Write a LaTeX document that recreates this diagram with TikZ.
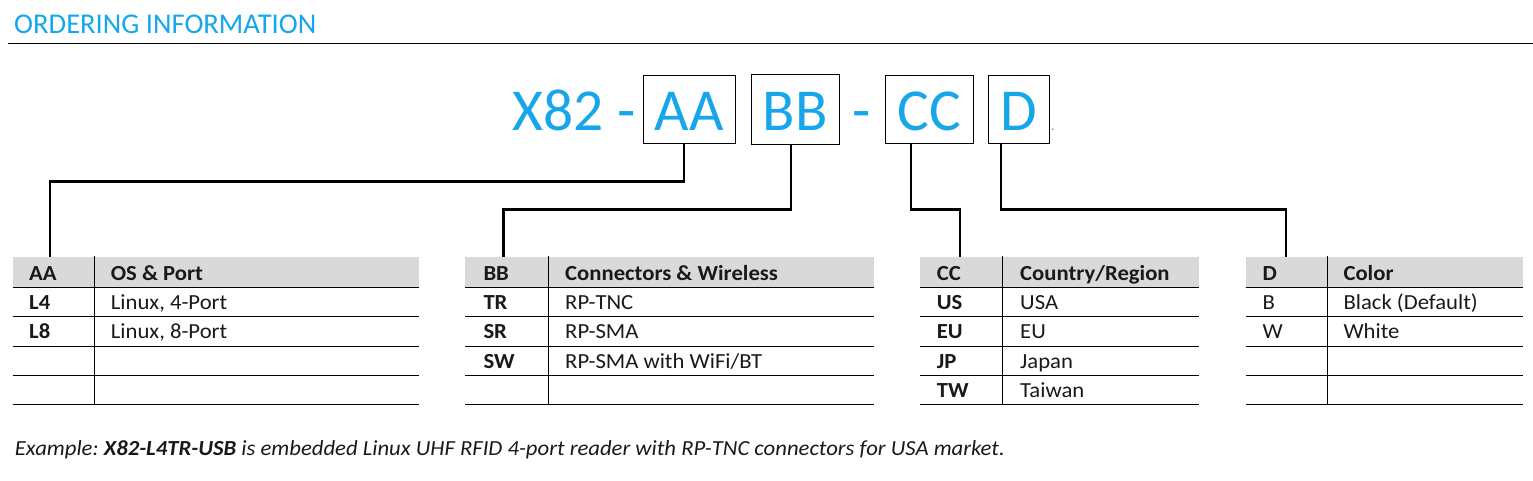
\documentclass[tikz,border=0pt]{standalone}
\usepackage{fontspec}
\setmainfont{Carlito}
\newfontfamily\tabfont[FakeStretch=1.055]{Carlito}
\frenchspacing
\definecolor{oblue}{RGB}{22,166,235}
\definecolor{otext}{RGB}{25,25,25}
\definecolor{ohead}{RGB}{217,217,217}
\tikzset{
 big/.style={font=\fontsize{59.5}{60}\selectfont, text=oblue, inner sep=0pt, anchor=base},
 codebox/.style={draw=black, line width=1pt, inner sep=0pt},
 conn/.style={line width=2.6pt, line join=miter},
 cell/.style={font=\tabfont\fontsize{21.5}{23}\selectfont, text=otext, inner sep=0pt, anchor=base west},
 hcell/.style={cell, font=\tabfont\fontsize{21.5}{23}\selectfont\bfseries},
 tline/.style={line width=1pt},
}
\newcommand\otable[3]{%
 \fill[ohead] (#1,257) rectangle (#3,287);
 \foreach \yy in {287,316,346.5,375.5,404.5}{\draw[tline] (#1,\yy) -- (#3,\yy);}
 \draw[tline] (#2,256) -- (#2,405);
}
\begin{document}
\begin{tikzpicture}[x=1pt,y=-1pt]
\useasboundingbox (0,0) rectangle (1533,480);
% title
\node[font=\fontsize{28.6}{30}\selectfont, text=oblue, inner sep=0pt, anchor=base west] (title) at (14,33.3) {ORDERING INFORMATION};
\draw[line width=1pt] (8,43.3) -- (1533,43.3);
% code
\node[big, anchor=base west] (x82) at (512.7,130) {X82 -};
\node[codebox, minimum width=92pt, minimum height=68pt] (AA) at (689,109) {};
\node[big] (AAt) at (689,130) {AA};
\node[codebox, minimum width=88pt, minimum height=70pt] (BB) at (795,109) {};
\node[big] (BBt) at (795,130) {BB};
\node[big] (dash2) at (861.7,130) {-};
\node[codebox, minimum width=88pt, minimum height=68pt] (CC) at (929,109) {};
\node[big] (CCt) at (929,130) {CC};
\node[codebox, minimum width=61pt, minimum height=68pt] (D) at (1018.5,109) {};
\node[big] (Dt) at (1018.5,130) {D};
\node[font=\fontsize{14}{14}\selectfont, text=oblue, inner sep=0pt, anchor=base west] (dot) at (1051,130) {.};
% tables
\otable{12.7}{94.3}{419.3}
\otable{465}{548.3}{874}
\otable{920}{1002.3}{1199}
\otable{1245.5}{1327.3}{1522.7}
\coordinate (aTop) at (50,257);
\coordinate (bTop) at (503.5,257);
\coordinate (cTop) at (960,257);
\coordinate (dTop) at (1286,257);
% connectors
\draw[conn] ([xshift=-5pt]AA.south) -- ++(0,38) -| (aTop);
\draw[conn] ([xshift=-4pt]BB.south) -- ++(0,65) -| (bTop);
\draw[conn] ([xshift=-18pt]CC.south) -- ++(0,66) -| (cTop);
\draw[conn] ([xshift=-17.5pt]D.south) -- ++(0,66) -| (dTop);
% AA table
\node[hcell] (aaH1) at (29,280) {AA};
\node[hcell] (aaH2) at (110.7,280) {OS \& Port};
\node[hcell] (aaR1a) at (29,309) {L4};
\node[cell] (aaR1b) at (110.7,309) {Linux, 4-Port};
\node[hcell] (aaR2a) at (29,338.5) {L8};
\node[cell] (aaR2b) at (110.7,338.5) {Linux, 8-Port};
% BB table
\node[hcell] (bbH1) at (483.3,280) {BB};
\node[hcell] (bbH2) at (565,280) {Connectors \& Wireless};
\node[hcell] (bbR1a) at (483.3,309) {TR};
\node[cell] (bbR1b) at (565,309) {RP-TNC};
\node[hcell] (bbR2a) at (483.3,338.5) {SR};
\node[cell] (bbR2b) at (565,338.5) {RP-SMA};
\node[hcell] (bbR3a) at (483.3,368) {SW};
\node[cell] (bbR3b) at (565,368) {RP-SMA with WiFi/BT};
% CC table
\node[hcell] (ccH1) at (936.7,280) {CC};
\node[hcell] (ccH2) at (1020,280) {Country/Region};
\node[hcell] (ccR1a) at (936.7,309) {US};
\node[cell] (ccR1b) at (1020,309) {USA};
\node[hcell] (ccR2a) at (936.7,338.5) {EU};
\node[cell] (ccR2b) at (1020,338.5) {EU};
\node[hcell] (ccR3a) at (936.7,368) {JP};
\node[cell] (ccR3b) at (1020,368) {Japan};
\node[hcell] (ccR4a) at (936.7,397) {TW};
\node[cell] (ccR4b) at (1020,397) {Taiwan};
% D table
\node[hcell] (dH1) at (1262.3,280) {D};
\node[hcell] (dH2) at (1343.3,280) {Color};
\node[cell] (dR1a) at (1262.3,309) {B};
\node[cell] (dR1b) at (1343.3,309) {Black (Default)};
\node[cell] (dR2a) at (1262.3,338.5) {W};
\node[cell] (dR2b) at (1343.3,338.5) {White};
% example
\node[cell, font=\tabfont\fontsize{21.5}{23}\selectfont\itshape] (ex) at (14.7,455) {Example: \textbf{X82-L4TR-USB} is embedded Linux UHF RFID 4-port reader with RP-TNC connectors for USA market.};
\end{tikzpicture}
\end{document}
